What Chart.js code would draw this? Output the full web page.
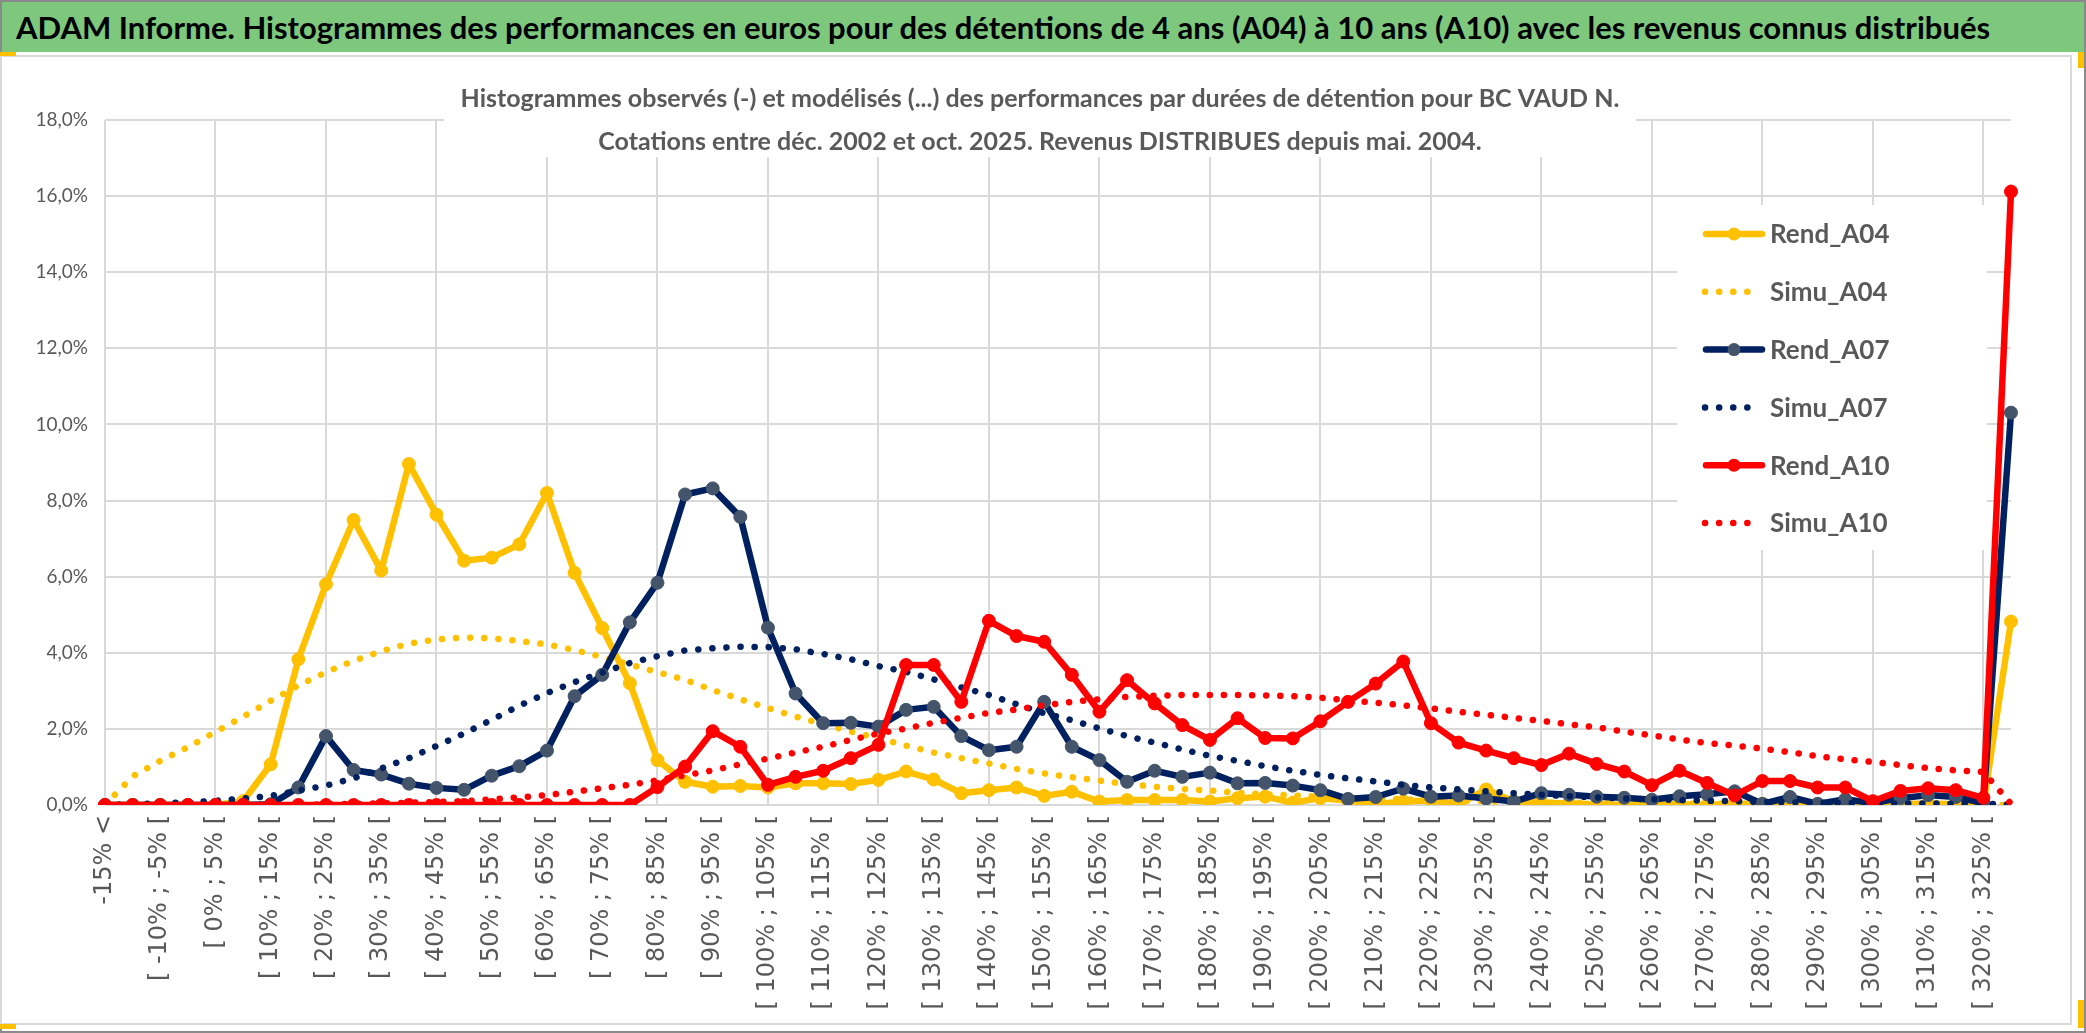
<!DOCTYPE html>
<html>
<head>
<meta charset="utf-8">
<title>ADAM Informe - BC VAUD N.</title>
<script src="https://cdn.jsdelivr.net/npm/chart.js@4.4.1/dist/chart.umd.min.js"></script>
<style>
  html, body { margin: 0; padding: 0; }
  body { width: 2086px; height: 1033px; position: relative; overflow: hidden; background: #fff; font-family: Lato, sans-serif; }
  #bord { position: absolute; left: 0; top: 0; width: 2082px; height: 1029px; border: 2px solid #8a8a8a; }
  #bandeau { position: absolute; left: 2px; top: 2px; width: 2082px; height: 50px; background: #7ec87e;
             display: flex; align-items: center; }
  #bandeau span { margin-left: 14px; font-weight: bold; font-size: 31px; color: #000; white-space: nowrap; }
  #cadre { position: absolute; left: 0; top: 55px; width: 2068px; height: 966px; border: 2px solid #d9d9d9; }
  #zone { position: absolute; left: 0; top: 57px; width: 2068px; height: 966px; }
  .poignee { position: absolute; background: #ffc000; }
</style>
</head>
<body>
<div id="bord"></div>
<div id="bandeau"><span>ADAM Informe. Histogrammes des performances en euros pour des détentions de 4 ans (A04) à 10 ans (A10) avec les revenus connus distribués</span></div>
<div id="cadre"></div>
<div id="zone"><canvas id="graphe"></canvas></div>
<div class="poignee" style="left:0;top:52px;width:16px;height:4px"></div>
<div class="poignee" style="left:0;top:1024px;width:16px;height:5px"></div>
<div class="poignee" style="left:2078px;top:52px;width:6px;height:16px"></div>
<div class="poignee" style="left:2078px;top:1000px;width:6px;height:28px"></div>
<script>
// Classes de performance (pas de 5 %)
const categories = [
  '-15% <', '[ -15% ; -10% [', '[ -10% ; -5% [', '[ -5% ; 0% [', '[ 0% ; 5% [',
  '[ 5% ; 10% [', '[ 10% ; 15% [', '[ 15% ; 20% [', '[ 20% ; 25% [', '[ 25% ; 30% [',
  '[ 30% ; 35% [', '[ 35% ; 40% [', '[ 40% ; 45% [', '[ 45% ; 50% [', '[ 50% ; 55% [',
  '[ 55% ; 60% [', '[ 60% ; 65% [', '[ 65% ; 70% [', '[ 70% ; 75% [', '[ 75% ; 80% [',
  '[ 80% ; 85% [', '[ 85% ; 90% [', '[ 90% ; 95% [', '[ 95% ; 100% [', '[ 100% ; 105% [',
  '[ 105% ; 110% [', '[ 110% ; 115% [', '[ 115% ; 120% [', '[ 120% ; 125% [', '[ 125% ; 130% [',
  '[ 130% ; 135% [', '[ 135% ; 140% [', '[ 140% ; 145% [', '[ 145% ; 150% [', '[ 150% ; 155% [',
  '[ 155% ; 160% [', '[ 160% ; 165% [', '[ 165% ; 170% [', '[ 170% ; 175% [', '[ 175% ; 180% [',
  '[ 180% ; 185% [', '[ 185% ; 190% [', '[ 190% ; 195% [', '[ 195% ; 200% [', '[ 200% ; 205% [',
  '[ 205% ; 210% [', '[ 210% ; 215% [', '[ 215% ; 220% [', '[ 220% ; 225% [', '[ 225% ; 230% [',
  '[ 230% ; 235% [', '[ 235% ; 240% [', '[ 240% ; 245% [', '[ 245% ; 250% [', '[ 250% ; 255% [',
  '[ 255% ; 260% [', '[ 260% ; 265% [', '[ 265% ; 270% [', '[ 270% ; 275% [', '[ 275% ; 280% [',
  '[ 280% ; 285% [', '[ 285% ; 290% [', '[ 290% ; 295% [', '[ 295% ; 300% [', '[ 300% ; 305% [',
  '[ 305% ; 310% [', '[ 310% ; 315% [', '[ 315% ; 320% [', '[ 320% ; 325% [', '325% >='
];

// Histogrammes observés (en %)
const rendA04 = [
  0, 0, 0, 0, 0, 0.10, 1.07, 3.83, 5.80, 7.49,
  6.16, 8.96, 7.63, 6.42, 6.50, 6.85, 8.20, 6.10, 4.65, 3.20,
  1.18, 0.61, 0.48, 0.50, 0.46, 0.57, 0.57, 0.55, 0.66, 0.88,
  0.67, 0.31, 0.39, 0.46, 0.24, 0.35, 0.09, 0.13, 0.13, 0.13,
  0.09, 0.18, 0.22, 0.06, 0.18, 0.12, 0.02, 0.09, 0.12, 0.02,
  0.41, 0.09, 0.06, 0.04, 0.02, 0, 0.02, 0.02, 0, 0.04,
  0.02, 0.06, 0.02, 0.04, 0, 0.02, 0.04, 0.02, 0, 4.82
];
const rendA07 = [
  0, 0, 0, 0, 0, 0, 0.02, 0.46, 1.81, 0.92,
  0.80, 0.56, 0.45, 0.40, 0.77, 1.02, 1.43, 2.86, 3.42, 4.80,
  5.84, 8.16, 8.32, 7.57, 4.66, 2.93, 2.15, 2.16, 2.06, 2.50,
  2.58, 1.81, 1.44, 1.53, 2.71, 1.53, 1.18, 0.61, 0.90, 0.74,
  0.85, 0.57, 0.58, 0.51, 0.39, 0.16, 0.21, 0.43, 0.22, 0.25,
  0.17, 0.09, 0.31, 0.27, 0.22, 0.19, 0.14, 0.23, 0.28, 0.36,
  0.03, 0.21, 0.03, 0.15, 0.05, 0.18, 0.26, 0.21, 0.05, 10.31
];
const rendA10 = [
  0, 0, 0, 0, 0, 0, 0, 0, 0, 0,
  0, 0, 0, 0, 0, 0, 0, 0, 0, 0,
  0.47, 1.01, 1.94, 1.53, 0.53, 0.74, 0.90, 1.23, 1.58, 3.68,
  3.68, 2.71, 4.84, 4.44, 4.29, 3.42, 2.45, 3.28, 2.67, 2.10,
  1.71, 2.28, 1.76, 1.75, 2.20, 2.71, 3.19, 3.77, 2.15, 1.64,
  1.43, 1.23, 1.05, 1.35, 1.08, 0.88, 0.52, 0.90, 0.58, 0.25,
  0.63, 0.63, 0.46, 0.46, 0.10, 0.37, 0.44, 0.39, 0.19, 16.12
];

// Histogrammes modélisés (en %)
const simuA04 = [
  0, 0.75, 1.16, 1.52, 1.92, 2.32, 2.74, 3.14, 3.49, 3.79,
  4.04, 4.24, 4.35, 4.40, 4.38, 4.31, 4.22, 4.07, 3.89, 3.69,
  3.49, 3.29, 3.02, 2.78, 2.55, 2.32, 2.13, 1.93, 1.75, 1.56,
  1.38, 1.23, 1.09, 0.95, 0.83, 0.73, 0.64, 0.55, 0.48, 0.42,
  0.38, 0.32, 0.28, 0.25, 0.22, 0.19, 0.17, 0.15, 0.13, 0.11,
  0.10, 0.08, 0.07, 0.06, 0.05, 0.05, 0.04, 0.04, 0.03, 0.03,
  0.03, 0.02, 0.02, 0.02, 0.02, 0.01, 0.01, 0.01, 0.01, 0
];
const simuA07 = [
  0.01, 0.02, 0.04, 0.07, 0.11, 0.17, 0.24, 0.38, 0.51, 0.70,
  0.96, 1.23, 1.55, 1.88, 2.24, 2.61, 2.94, 3.23, 3.48, 3.73,
  3.91, 4.06, 4.12, 4.16, 4.15, 4.09, 3.97, 3.83, 3.65, 3.50,
  3.30, 3.09, 2.89, 2.65, 2.41, 2.23, 2.01, 1.81, 1.64, 1.46,
  1.29, 1.16, 1.02, 0.90, 0.79, 0.70, 0.62, 0.53, 0.46, 0.41,
  0.36, 0.31, 0.27, 0.23, 0.20, 0.17, 0.15, 0.13, 0.11, 0.10,
  0.08, 0.07, 0.06, 0.05, 0.05, 0.04, 0.04, 0.03, 0.03, 0.01
];
const simuA10 = [
  0, 0, 0, 0, 0, 0, 0, 0, 0.02, 0.03,
  0.04, 0.06, 0.08, 0.10, 0.15, 0.20, 0.26, 0.35, 0.44, 0.53,
  0.65, 0.78, 0.91, 1.07, 1.22, 1.38, 1.53, 1.71, 1.88, 2.01,
  2.16, 2.29, 2.42, 2.51, 2.62, 2.71, 2.78, 2.84, 2.87, 2.89,
  2.89, 2.89, 2.88, 2.86, 2.82, 2.75, 2.69, 2.62, 2.54, 2.45,
  2.37, 2.29, 2.21, 2.12, 2.04, 1.93, 1.83, 1.72, 1.63, 1.56,
  1.48, 1.39, 1.28, 1.20, 1.13, 1.05, 0.97, 0.91, 0.87, 0.03
];

const seriesNames = ['Rend_A04', 'Simu_A04', 'Rend_A07', 'Simu_A07', 'Rend_A10', 'Simu_A10'];
const yTicks = [0, 2, 4, 6, 8, 10, 12, 14, 16, 18];
const titleLines = [
  'Histogrammes observés (-) et modélisés (...) des performances par durées de détention pour BC VAUD N.',
  'Cotations entre déc. 2002 et oct. 2025. Revenus DISTRIBUES depuis mai. 2004.'
];

const JAUNE = '#ffc000';
const MARINE = '#002060';
const ROUGE = '#ff0000';
const GRIS = '#595959';
const GRILLE = '#d9d9d9';
const POINTILLE = [0.1, 14];

Chart.defaults.font.family = 'Lato, sans-serif';
Chart.defaults.color = GRIS;

function observe(label, data, couleur, marqueur, ordre) {
  return {
    label: label,
    data: data,
    borderColor: couleur,
    backgroundColor: marqueur,
    pointBackgroundColor: marqueur,
    pointBorderColor: marqueur,
    borderWidth: 6.5,
    pointRadius: 6.5,
    pointBorderWidth: 1,
    borderJoinStyle: 'round',
    borderCapStyle: 'round',
    tension: 0,
    order: ordre
  };
}

function simule(label, data, couleur, ordre) {
  return {
    label: label,
    data: data,
    borderColor: couleur,
    backgroundColor: couleur,
    borderWidth: 6.5,
    borderDash: POINTILLE,
    borderCapStyle: 'round',
    pointRadius: 0,
    tension: 0,
    order: ordre
  };
}

const datasets = [
  observe(seriesNames[0], rendA04, JAUNE, JAUNE, 6),
  simule(seriesNames[1], simuA04, JAUNE, 5),
  observe(seriesNames[2], rendA07, MARINE, '#44546a', 4),
  simule(seriesNames[3], simuA07, MARINE, 3),
  observe(seriesNames[4], rendA10, ROUGE, ROUGE, 2),
  simule(seriesNames[5], simuA10, ROUGE, 1)
];

// Titre et légende posés sur la zone de tracé, sur fond blanc
const habillage = {
  id: 'habillage',
  beforeDatasetsDraw(chart) {
    const ctx = chart.ctx;
    ctx.save();
    ctx.fillStyle = '#fff';
    ctx.fillRect(444, 0, 1192, 100);
    ctx.fillRect(1677, 148, 310, 345);
    ctx.restore();
  },
  afterDatasetsDraw(chart) {
    const ctx = chart.ctx;
    ctx.save();
    ctx.fillStyle = GRIS;
    ctx.font = 'bold 25px Lato';
    ctx.textAlign = 'center';
    ctx.textBaseline = 'alphabetic';
    ctx.fillText(titleLines[0], 1040, 50);
    ctx.fillText(titleLines[1], 1040, 93);

    // légende
    const y0 = 177, pas = 57.8;
    datasets.forEach((ds, i) => {
      const y = y0 + i * pas;
      ctx.save();
      ctx.strokeStyle = ds.borderColor;
      ctx.lineWidth = ds.borderWidth;
      ctx.lineCap = 'round';
      ctx.beginPath();
      if (ds.borderDash) {
        ctx.setLineDash(ds.borderDash);
        ctx.moveTo(1705, y);
        ctx.lineTo(1752, y);
        ctx.stroke();
      } else {
        ctx.moveTo(1706, y);
        ctx.lineTo(1762, y);
        ctx.stroke();
        ctx.fillStyle = ds.pointBackgroundColor;
        ctx.beginPath();
        ctx.arc(1734, y, 6.5, 0, Math.PI * 2);
        ctx.fill();
      }
      ctx.restore();
      ctx.fillStyle = GRIS;
      ctx.font = 'bold 26px Lato';
      ctx.textAlign = 'left';
      ctx.textBaseline = 'middle';
      ctx.fillText(ds.label, 1770, y + 1);
    });
    ctx.restore();
  }
};

new Chart(document.getElementById('graphe'), {
  type: 'line',
  data: {
    labels: categories,
    datasets: datasets
  },
  options: {
    responsive: true,
    maintainAspectRatio: false,
    devicePixelRatio: 1,
    animation: false,
    events: [],
    layout: {
      padding: { top: 63, right: 57, left: 0, bottom: 0 }
    },
    plugins: {
      legend: { display: false },
      title: { display: false },
      tooltip: { enabled: false }
    },
    scales: {
      x: {
        type: 'category',
        offset: false,
        afterFit(scale) { scale.height = 218; },
        border: { display: false },
        grid: {
          drawTicks: false,
          lineWidth: 2,
          color: (c) => (c.index % 4 === 0 ? GRILLE : 'rgba(0,0,0,0)')
        },
        ticks: {
          autoSkip: false,
          minRotation: 90,
          maxRotation: 90,
          padding: 10,
          color: GRIS,
          font: { family: 'DejaVu Sans', size: 24 },
          callback: (v, i) => (i % 2 === 0 ? categories[i] : '')
        }
      },
      y: {
        min: yTicks[0],
        max: yTicks[yTicks.length - 1],
        afterFit(scale) { scale.width = 105; },
        afterBuildTicks(scale) { scale.ticks = yTicks.map(v => ({ value: v })); },
        border: { display: false },
        grid: {
          drawTicks: false,
          lineWidth: 2,
          color: GRILLE
        },
        ticks: {
          padding: 17,
          color: GRIS,
          font: { size: 19 },
          callback: (v) => v.toFixed(1).replace('.', ',') + '%'
        }
      }
    }
  },
  plugins: [habillage]
});
</script>
</body>
</html>
